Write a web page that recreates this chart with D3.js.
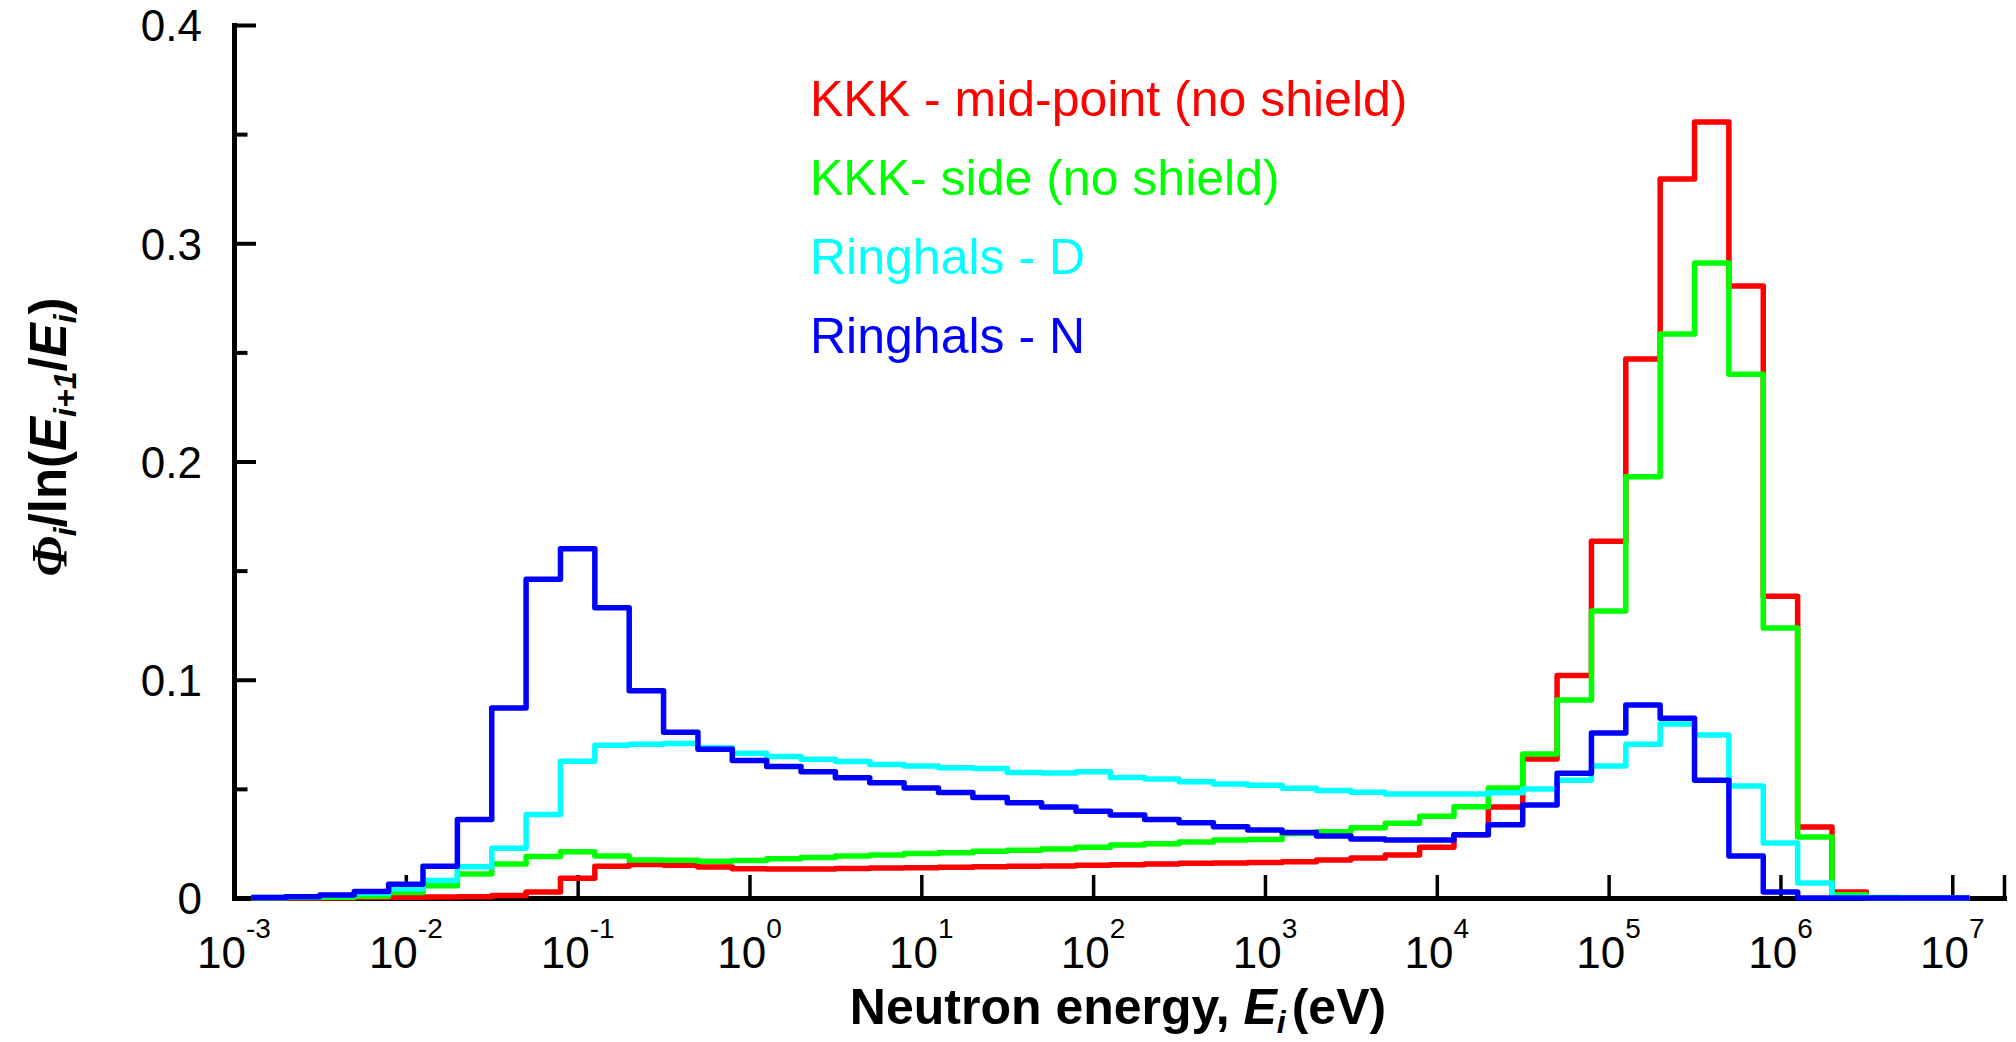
<!DOCTYPE html>
<html><head><meta charset="utf-8">
<script src="https://cdn.jsdelivr.net/npm/d3@7"></script>
<style>
body{margin:0;background:#fff;}
svg{display:block;}
text{font-family:"Liberation Sans", Arial, sans-serif;}
</style></head><body>
<svg id="chart" width="2016" height="1042"></svg>
<script>
// Energy group boundaries (eV)
const binEdges = [
  1.259e-3, 1.995e-3, 3.162e-3, 5.012e-3, 7.943e-3,
  1.259e-2, 1.995e-2, 3.162e-2, 5.012e-2, 7.943e-2,
  1.259e-1, 1.995e-1, 3.162e-1, 5.012e-1, 7.943e-1,
  1.259e0, 1.995e0, 3.162e0, 5.012e0, 7.943e0,
  1.259e1, 1.995e1, 3.162e1, 5.012e1, 7.943e1,
  1.259e2, 1.995e2, 3.162e2, 5.012e2, 7.943e2,
  1.259e3, 1.995e3, 3.162e3, 5.012e3, 7.943e3,
  1.259e4, 1.995e4, 3.162e4, 5.012e4, 7.943e4,
  1.259e5, 1.995e5, 3.162e5, 5.012e5, 7.943e5,
  1.259e6, 1.995e6, 3.162e6, 5.012e6, 7.943e6,
  1.259e7
];
const kkkMidPoint = [
  0, 0, 0, 0.0002, 0.0003, 0.0005, 0.0006, 0.0012, 0.0028, 0.0090,
  0.0146, 0.0153, 0.0150, 0.0142, 0.0134, 0.0133, 0.0133, 0.0135, 0.0137, 0.0139,
  0.0141, 0.0143, 0.0145, 0.0147, 0.0150, 0.0152, 0.0156, 0.0159, 0.0160, 0.0163,
  0.0166, 0.0174, 0.0183, 0.0197, 0.0233, 0.0290, 0.0417, 0.0637, 0.1020, 0.1635,
  0.2470, 0.3294, 0.3555, 0.2804, 0.1383, 0.0325, 0.0028, 0, 0, 0
];
const kkkSide = [
  0.0001, 0.0002, 0.0004, 0.0008, 0.0025, 0.0056, 0.0110, 0.0156, 0.0190, 0.0212,
  0.0192, 0.0174, 0.0173, 0.0168, 0.0172, 0.0180, 0.0185, 0.0193, 0.0197, 0.0204,
  0.0207, 0.0214, 0.0219, 0.0224, 0.0233, 0.0243, 0.0249, 0.0257, 0.0266, 0.0268,
  0.0295, 0.0304, 0.0322, 0.0342, 0.0375, 0.0418, 0.0504, 0.0660, 0.0907, 0.1315,
  0.1930, 0.2584, 0.2910, 0.2400, 0.1237, 0.0280, 0.0015, 0, 0, 0
];
const ringhalsD = [
  0.0002, 0.0006, 0.0012, 0.0022, 0.0042, 0.0080, 0.0143, 0.0228, 0.0383, 0.0627,
  0.0700, 0.0704, 0.0708, 0.0688, 0.0663, 0.0648, 0.0636, 0.0626, 0.0612, 0.0605,
  0.0597, 0.0593, 0.0575, 0.0573, 0.0578, 0.0552, 0.0545, 0.0533, 0.0522, 0.0517,
  0.0503, 0.0492, 0.0485, 0.0477, 0.0476, 0.0476, 0.0482, 0.0500, 0.0540, 0.0605,
  0.0705, 0.0797, 0.0747, 0.0513, 0.0252, 0.0069, 0.0003, 0.0002, 0.0001, 0.0001
];
const ringhalsN = [
  0.0002, 0.0006, 0.0014, 0.0030, 0.0063, 0.0145, 0.0360, 0.0870, 0.1460, 0.1600,
  0.1330, 0.0950, 0.0760, 0.0682, 0.0630, 0.0602, 0.0578, 0.0551, 0.0528, 0.0504,
  0.0483, 0.0461, 0.0436, 0.0417, 0.0398, 0.0380, 0.0360, 0.0345, 0.0327, 0.0312,
  0.0300, 0.0284, 0.0270, 0.0266, 0.0266, 0.0290, 0.0336, 0.0426, 0.0572, 0.0756,
  0.0884, 0.0824, 0.0540, 0.0192, 0.0027, 0, 0, 0, 0, 0
];
const seriesNames = ["KKK - mid-point (no shield)", "KKK- side (no shield)", "Ringhals - D", "Ringhals - N"];
const seriesColors = ["#ff0000", "#00ff00", "#00ffff", "#0000ff"];
const yTickValues = [0, 0.1, 0.2, 0.3, 0.4];
const yTickLabels = ["0", "0.1", "0.2", "0.3", "0.4"];
const yMinorTicks = [0.05, 0.15, 0.25, 0.35];
const xTickValues = [1e-3, 1e-2, 1e-1, 1e0, 1e1, 1e2, 1e3, 1e4, 1e5, 1e6, 1e7];
const xTickExponents = ["-3", "-2", "-1", "0", "1", "2", "3", "4", "5", "6", "7"];
const xDomain = [1e-3, 2e7];
const yDomain = [0, 0.4];

const svg = d3.select("#chart");
const x = d3.scaleLog().domain(xDomain).range([234, 2004]);
const y = d3.scaleLinear().domain(yDomain).range([898, 25]);

// X axis (ticks pointing inward)
const xAxisG = svg.append("g").attr("transform", "translate(0,898)")
  .call(d3.axisBottom(x).tickValues(xTickValues.concat([xDomain[1]])).tickSize(-23).tickSizeOuter(0).tickFormat(""));
xAxisG.select(".domain").attr("stroke", "#000").attr("stroke-width", 5).attr("stroke-linecap", "square");
xAxisG.selectAll(".tick line").attr("stroke", "#000").attr("stroke-width", 3.5);

// Y axis major
const yAxisG = svg.append("g").attr("transform", "translate(234,0)")
  .call(d3.axisLeft(y).tickValues(yTickValues).tickSize(-22).tickSizeOuter(0).tickPadding(32)
    .tickFormat((d, i) => yTickLabels[i]));
yAxisG.select(".domain").attr("stroke", "#000").attr("stroke-width", 5).attr("stroke-linecap", "square");
yAxisG.selectAll(".tick line").attr("stroke", "#000").attr("stroke-width", 4);
yAxisG.selectAll(".tick text").attr("font-size", 44).attr("fill", "#000")
  .attr("font-family", "'Liberation Sans', Arial, sans-serif").attr("dy", "0.36em");
// Y axis minor
const yMinorG = svg.append("g").attr("transform", "translate(234,0)")
  .call(d3.axisLeft(y).tickValues(yMinorTicks).tickSize(-13.5).tickSizeOuter(0).tickFormat(""));
yMinorG.select(".domain").remove();
yMinorG.selectAll(".tick line").attr("stroke", "#000").attr("stroke-width", 4);

// X tick labels with superscripts
const xl = svg.append("g").selectAll("text").data(xTickValues).join("text")
  .attr("x", d => x(d)).attr("y", 968).attr("text-anchor", "middle").attr("font-size", 44).attr("fill", "#000");
xl.append("tspan").text("10");
xl.append("tspan").attr("font-size", 28).attr("dy", -30).text((d, i) => xTickExponents[i]);

// Series (step histograms)
const allSeries = [kkkMidPoint, kkkSide, ringhalsD, ringhalsN];
const line = d3.line().x(d => x(d[0])).y(d => y(d[1])).curve(d3.curveStepAfter);
allSeries.forEach((vals, s) => {
  const pts = binEdges.map((e, i) => [e, vals[Math.min(i, vals.length - 1)]]);
  svg.append("path").datum(pts).attr("d", line).attr("fill", "none")
    .attr("stroke", seriesColors[s]).attr("stroke-width", 5.5).attr("stroke-linejoin", "round");
});

// Legend
const legendY = [116, 195, 274, 353];
svg.append("g").selectAll("text").data(seriesNames).join("text")
  .attr("x", 810).attr("y", (d, i) => legendY[i]).attr("font-size", 50)
  .attr("fill", (d, i) => seriesColors[i]).text(d => d);

// Axis titles
const xt = svg.append("text").attr("x", 1118).attr("y", 1024).attr("text-anchor", "middle")
  .attr("font-weight", "bold").attr("font-size", 50).attr("fill", "#000");
xt.append("tspan").text("Neutron energy, ");
xt.append("tspan").attr("font-style", "italic").text("E");
xt.append("tspan").attr("font-size", 32).attr("font-style", "italic").attr("dy", 9).text("i");
xt.append("tspan").attr("dy", -9).attr("dx", 6).text("(eV)");

const yt = svg.append("text").attr("transform", "translate(66,437) rotate(-90)").attr("text-anchor", "middle")
  .attr("font-weight", "bold").attr("font-size", 51).attr("fill", "#000");
yt.append("tspan").attr("font-family", "'Liberation Serif', serif").attr("font-style", "italic").text("Φ");
yt.append("tspan").attr("font-size", 32).attr("font-style", "italic").attr("dy", 10).text("i");
yt.append("tspan").attr("dy", -10).text("/ln(");
yt.append("tspan").attr("font-style", "italic").text("E");
yt.append("tspan").attr("font-size", 32).attr("font-style", "italic").attr("dy", 10).text("i+1");
yt.append("tspan").attr("dy", -10).text("/");
yt.append("tspan").attr("font-style", "italic").text("E");
yt.append("tspan").attr("font-size", 32).attr("font-style", "italic").attr("dy", 10).text("i");
yt.append("tspan").attr("dy", -10).text(")");
</script>
</body></html>
